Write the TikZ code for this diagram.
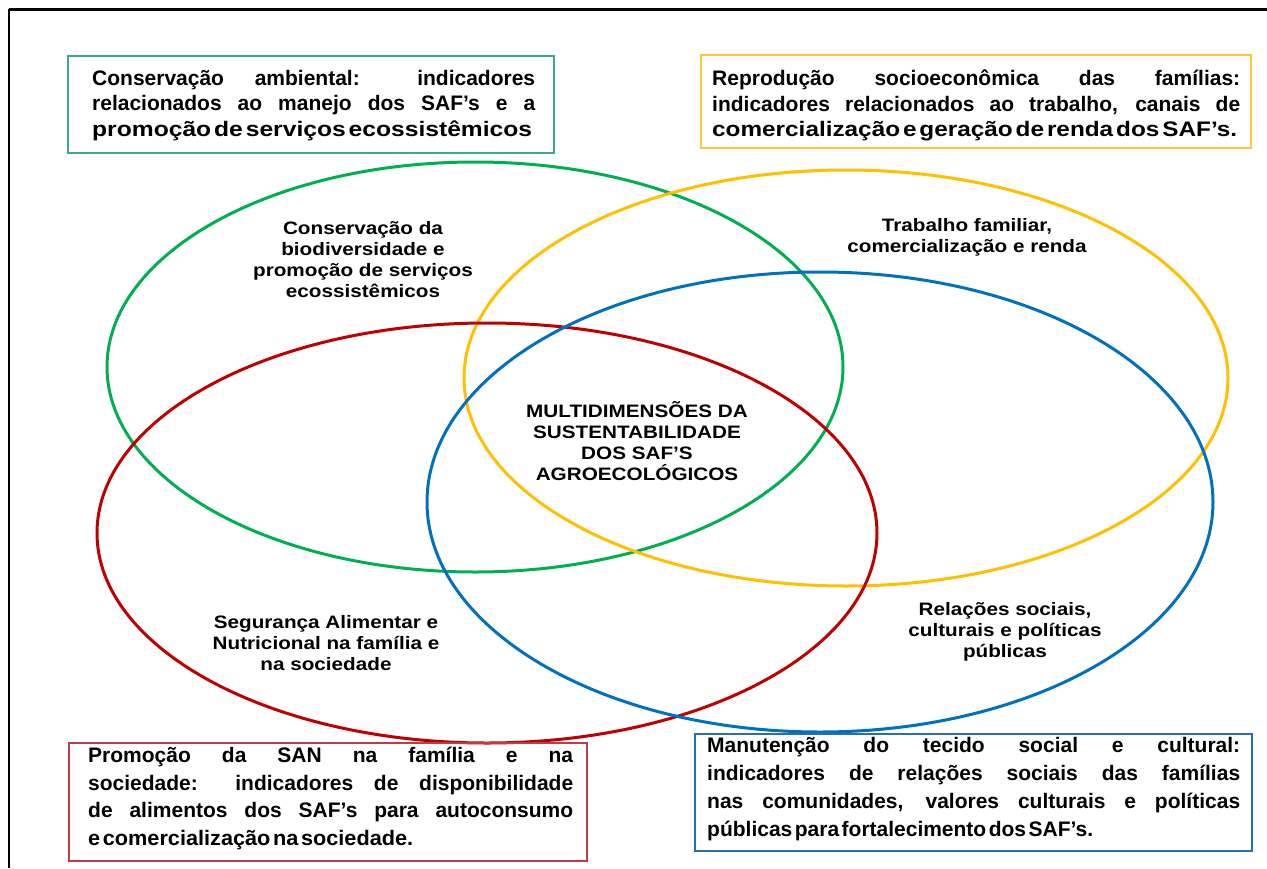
\documentclass[tikz,border=0pt]{standalone}
\usepackage{fontspec}
\usepackage{graphicx}
\setmainfont{Liberation Sans}
\newfontfamily\lblfont[FakeStretch=1.15]{Liberation Sans}
\definecolor{cgreen}{RGB}{0,176,80}
\definecolor{cyellow}{RGB}{255,192,0}
\definecolor{cred}{RGB}{192,0,0}
\definecolor{cblue}{RGB}{0,112,192}
\definecolor{bgreen}{RGB}{60,170,130}
\definecolor{byellow}{RGB}{250,200,60}
\definecolor{bred}{RGB}{190,60,70}
\definecolor{bblue}{RGB}{40,110,180}
\newcommand{\jl}[2]{\makebox[#1][s]{#2}}
\newcommand{\lastln}[2]{\resizebox{#1}{\height}{\spaceskip=0.12em\relax #2}}
\begin{document}
\begin{tikzpicture}[x=1pt,y=-1pt,
  ring/.style={line width=3pt},
  boxframe/.style={line width=1.5pt, anchor=north west, inner sep=0pt},
  boxtext/.style={inner sep=0pt, anchor=north west, align=left, font=\bfseries\fontsize{21}{25.5}\selectfont},
  lbl/.style={align=center, inner sep=0pt, font=\lblfont\bfseries\fontsize{18}{21}\selectfont}]
\useasboundingbox (0,0) rectangle (1267,868);
\fill[white] (0,0) rectangle (1267,868);
\draw[line width=3pt] (9,9) -- (1267,9);
\draw[line width=1.5pt] (9,9) -- (9,868);

\draw[ring, cgreen] (475,367) ellipse [x radius=368pt, y radius=205pt];
\draw[ring, cyellow] (846,378) ellipse [x radius=382pt, y radius=208pt];
\draw[ring, cred] (487,533) ellipse [x radius=390pt, y radius=210pt];
\draw[ring, cblue] (820,502) ellipse [x radius=393pt, y radius=230pt];

\node[boxframe, draw=bgreen, minimum width=486pt, minimum height=97pt] (gbox) at (67,55) {};
\node[boxframe, draw=byellow, minimum width=550pt, minimum height=93pt] (ybox) at (700,54) {};
\node[boxframe, draw=bred, minimum width=518pt, minimum height=118pt] (rbox) at (68,742) {};
\node[boxframe, draw=bblue, minimum width=557pt, minimum height=117pt] (bbox) at (694,733) {};

\node[boxtext] (gtext) at (92,70) {\jl{443pt}{Conservação ambiental: indicadores}\\
\jl{443pt}{relacionados ao manejo dos SAF’s e a}\\
\lastln{440pt}{promoção de serviços ecossistêmicos}};
\node[boxtext] (ytext) at (712,70) {\jl{528pt}{Reprodução socioeconômica das famílias:}\\
\jl{528pt}{indicadores relacionados ao trabalho, canais de}\\
\lastln{525pt}{comercialização e geração de renda dos SAF’s.}};
\node[boxtext, font=\bfseries\fontsize{21}{27.5}\selectfont] (rtext) at (88,747) {\jl{485pt}{Promoção da SAN na família e na}\\
\jl{485pt}{sociedade: indicadores de disponibilidade}\\
\jl{485pt}{de alimentos dos SAF’s para autoconsumo}\\
\lastln{325pt}{e comercialização na sociedade.}};
\node[boxtext, font=\bfseries\fontsize{21}{28}\selectfont] (btext) at (707,737) {\jl{533pt}{Manutenção do tecido social e cultural:}\\
\jl{533pt}{indicadores de relações sociais das famílias}\\
\jl{533pt}{nas comunidades, valores culturais e políticas}\\
\lastln{386pt}{públicas para fortalecimento dos SAF’s.}};

\node[lbl] (lgreen) at (363,260) {Conservação da\\biodiversidade e\\promoção de serviços\\ecossistêmicos};
\node[lbl] (lyellow) at (967,237) {Trabalho familiar,\\comercialização e renda};
\node[lbl] (lcenter) at (637,441) {MULTIDIMENSÕES DA\\SUSTENTABILIDADE\\DOS SAF’S\\AGROECOLÓGICOS};
\node[lbl] (lred) at (326,643) {Segurança Alimentar e\\Nutricional na família e\\na sociedade};
\node[lbl] (lblue) at (1005,632) {Relações sociais,\\culturais e políticas\\públicas};
\end{tikzpicture}
\end{document}
